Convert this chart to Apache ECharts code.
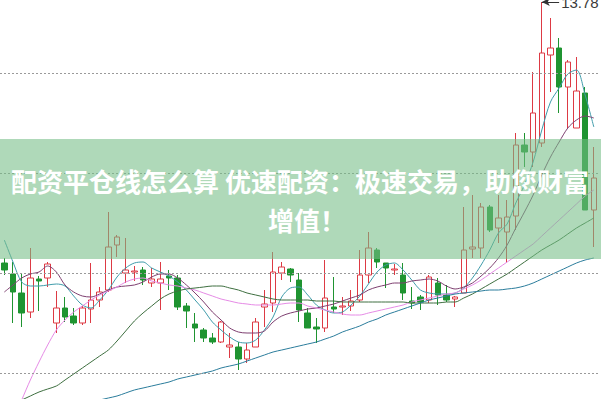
<!DOCTYPE html>
<html>
<head>
<meta charset="utf-8">
<script src="https://cdn.jsdelivr.net/npm/echarts@6/dist/echarts.min.js"></script>
<style>
  html, body { margin: 0; padding: 0; background: #fff; }
  #kline { width: 601px; height: 399px; }
</style>
</head>
<body>
<div id="kline"></div>
<script>
// 日K数据
const days = Array.from({ length: 69 }, (_, i) => 'D' + (i + 1));
const opens = [11.17,11.06,10.87,10.68,11.01,11.02,10.57,10.72,10.64,10.57,10.71,10.80,10.90,11.35,11.07,11.08,11.10,10.97,10.97,11.04,11.02,10.74,10.56,10.50,10.42,10.38,10.33,10.33,10.21,10.33,10.73,10.77,11.07,11.11,11.00,10.67,10.53,10.52,10.73,10.73,10.74,10.80,11.05,11.30,11.17,11.10,11.05,10.79,10.83,10.80,10.97,10.85,10.81,10.87,11.31,11.32,11.73,11.52,11.48,11.64,12.35,12.28,12.37,13.25,13.32,12.93,12.52,12.87,11.70];
const closes = [11.10,10.88,10.67,11.02,10.99,11.16,10.72,10.63,10.57,10.72,10.80,10.88,11.33,11.43,11.10,11.09,11.00,11.01,11.01,11.02,10.73,10.69,10.52,10.42,10.38,10.58,10.35,10.21,10.30,10.58,10.76,11.08,11.13,11.05,10.70,10.52,10.51,10.82,10.71,10.74,10.79,11.05,11.32,11.18,11.12,11.11,10.87,10.77,10.78,11.03,10.85,10.80,10.83,11.30,11.33,11.73,11.50,11.62,11.63,12.35,12.28,12.67,13.27,13.32,12.93,13.18,12.89,11.70,12.02];
const lows = [11.05,10.57,10.53,10.62,10.69,10.93,10.47,10.58,10.55,10.55,10.57,10.73,10.88,11.23,10.97,10.99,10.95,10.93,10.70,10.90,10.70,10.52,10.38,10.38,10.36,10.37,10.22,10.10,10.17,10.33,10.53,10.68,11.00,10.98,10.58,10.52,10.37,10.48,10.67,10.65,10.69,10.78,10.97,11.12,10.92,11.05,10.80,10.71,10.70,10.77,10.75,10.78,10.73,10.87,11.22,11.22,11.48,11.37,11.17,11.50,12.13,12.13,12.33,12.88,12.67,12.52,12.52,11.70,11.33];
const highs = [11.22,11.18,11.07,11.32,11.04,11.18,10.89,10.83,10.72,10.74,11.17,10.93,11.68,11.45,11.42,11.14,11.13,11.12,11.18,11.10,11.05,10.77,10.67,10.52,10.47,10.59,10.47,10.38,10.37,10.62,10.90,11.28,11.18,11.12,11.07,10.72,10.62,11.20,11.03,10.83,10.90,11.30,11.48,11.32,11.17,11.16,11.17,10.93,10.85,11.05,11.02,10.95,10.84,11.73,11.85,11.77,11.75,11.85,11.80,12.47,12.47,13.08,13.78,13.62,13.42,13.20,13.23,12.93,12.33];

// 均线（同样从图上估读）
const ma5 = [11.40,11.18,10.98,10.94,10.94,10.95,10.96,10.94,10.84,10.75,10.72,10.80,10.90,11.03,11.12,11.17,11.18,11.12,11.08,11.04,10.98,10.90,10.80,10.70,10.58,10.50,10.43,10.38,10.37,10.40,10.50,10.63,10.83,10.92,10.93,10.85,10.75,10.70,10.67,10.68,10.75,10.84,10.96,11.08,11.15,11.17,11.10,11.00,10.90,10.87,10.86,10.86,10.87,10.92,11.02,11.15,11.30,11.47,11.56,11.77,11.95,12.18,12.50,12.78,12.92,13.06,13.10,12.85,12.53];
const ma10 = [10.88,10.95,11.02,11.06,11.08,11.14,11.08,10.95,10.88,10.84,10.83,10.86,10.90,10.93,10.94,10.95,10.98,11.03,11.06,11.06,11.02,10.95,10.87,10.78,10.68,10.60,10.52,10.48,10.47,10.47,10.49,10.58,10.64,10.67,10.69,10.71,10.72,10.74,10.76,10.79,10.82,10.85,10.90,10.93,10.95,10.97,10.97,10.99,11.00,11.01,10.99,10.94,10.91,10.93,10.97,11.04,11.12,11.22,11.35,11.52,11.68,11.85,12.05,12.23,12.38,12.52,12.60,12.64,12.62];
const ma20 = [9.40,9.60,9.80,10.00,10.18,10.35,10.50,10.60,10.68,10.74,10.80,10.85,10.89,10.93,10.98,11.01,11.02,10.99,10.97,10.95,10.94,10.92,10.90,10.87,10.84,10.81,10.79,10.77,10.76,10.75,10.75,10.75,10.76,10.77,10.77,10.74,10.72,10.70,10.68,10.66,10.65,10.65,10.67,10.69,10.71,10.73,10.75,10.78,10.80,10.82,10.84,10.86,10.87,10.91,10.95,11.00,11.06,11.12,11.18,11.24,11.30,11.36,11.44,11.52,11.60,11.68,11.76,11.84,11.90];
const ma30 = [9.72,9.76,9.80,9.84,9.88,9.91,9.94,10.00,10.06,10.12,10.18,10.24,10.30,10.39,10.49,10.59,10.67,10.74,10.81,10.86,10.89,10.91,10.92,10.93,10.94,10.94,10.92,10.90,10.87,10.85,10.83,10.81,10.80,10.80,10.80,10.80,10.79,10.79,10.79,10.78,10.78,10.78,10.78,10.78,10.78,10.78,10.78,10.77,10.77,10.77,10.77,10.78,10.78,10.82,10.86,10.91,10.96,11.01,11.06,11.12,11.18,11.24,11.30,11.35,11.40,11.46,11.52,11.57,11.62];
const ma60 = [9.40,9.44,9.48,9.52,9.56,9.60,9.64,9.68,9.72,9.75,9.78,9.80,9.82,9.84,9.87,9.90,9.92,9.94,9.96,9.98,10.01,10.03,10.05,10.07,10.09,10.12,10.14,10.16,10.19,10.22,10.25,10.28,10.30,10.32,10.34,10.36,10.38,10.41,10.44,10.48,10.51,10.54,10.58,10.61,10.65,10.68,10.71,10.74,10.77,10.80,10.82,10.84,10.86,10.87,10.88,10.89,10.90,10.90,10.91,10.92,10.94,10.97,11.01,11.05,11.09,11.13,11.17,11.20,11.22];

// 虚线网格所在价位
const gridLevels = [13.07, 12.07, 11.07, 10.07];

const kData = opens.map((o, i) => [o, closes[i], lows[i], highs[i]]);
const topIdx = highs.indexOf(Math.max(...highs));

const maLine = (name, data, color) => ({
    name,
    type: 'line',
    data,
    symbol: 'none',
    smooth: 0.3,
    silent: true,
    z: 3,
    lineStyle: { width: 1, color },
});

const chart = echarts.init(document.getElementById('kline'), null, { renderer: 'svg' });
chart.setOption({
    animation: false,
    backgroundColor: '#fff',
    grid: { left: -5.6, right: 2.85, top: 0, bottom: 0 },
    xAxis: {
        type: 'category',
        data: days,
        boundaryGap: true,
        show: false,
    },
    yAxis: {
        type: 'value',
        min: 9.81,
        max: 13.8,
        show: false,
        splitLine: { show: false },
    },
    series: [
        {
            name: 'K',
            type: 'candlestick',
            data: kData,
            barWidth: 6,
            z: 2,
            itemStyle: {
                color: '#ffffff',
                color0: '#1f9431',
                borderColor: '#dd3a44',
                borderColor0: '#1f9431',
                borderWidth: 1,
            },
            markLine: {
                silent: true,
                animation: false,
                symbol: ['none', 'none'],
                label: { show: false },
                lineStyle: { color: '#9a9a9a', type: [2, 2], width: 1 },
                data: [
                    ...gridLevels.map(v => ({ yAxis: v })),
                    [
                        {
                            coord: [topIdx, highs[topIdx]],
                            symbol: 'arrow',
                            symbolSize: [6, 8],
                            lineStyle: { color: '#333', type: 'solid', width: 1 },
                            label: {
                                show: true,
                                position: 'end',
                                distance: 2,
                                formatter: highs[topIdx].toFixed(2),
                                color: '#3a3a3a',
                                fontSize: 15,
                                fontFamily: 'Liberation Sans, Arial, sans-serif',
                            },
                        },
                        { coord: [topIdx + 2, highs[topIdx]], symbol: 'none' },
                    ],
                ],
            },
        },
        maLine('MA5', ma5, '#3f9cab'),
        maLine('MA10', ma10, '#7e3f70'),
        maLine('MA20', ma20, '#e68be6'),
        maLine('MA30', ma30, '#3e6f40'),
        maLine('MA60', ma60, '#2b7d9c'),
    ],
    graphic: [
        {
            type: 'rect',
            z: 100,
            shape: { x: 0, y: 139, width: 601, height: 120 },
            style: { fill: 'rgba(118,190,134,0.58)' },
        },
        {
            type: 'text',
            z: 101,
            x: 300,
            y: 180,
            style: {
                text: '配资平仓线怎么算 优速配资：极速交易，助您财富',
                fill: '#fff',
                font: 'bold 26px "Noto Sans CJK SC"',
                textAlign: 'center',
                textVerticalAlign: 'middle',
            },
        },
        {
            type: 'text',
            z: 101,
            x: 307,
            y: 219,
            style: {
                text: '增值！',
                fill: '#fff',
                font: 'bold 26px "Noto Sans CJK SC"',
                textAlign: 'center',
                textVerticalAlign: 'middle',
            },
        },
    ],
});
</script>
</body>
</html>
